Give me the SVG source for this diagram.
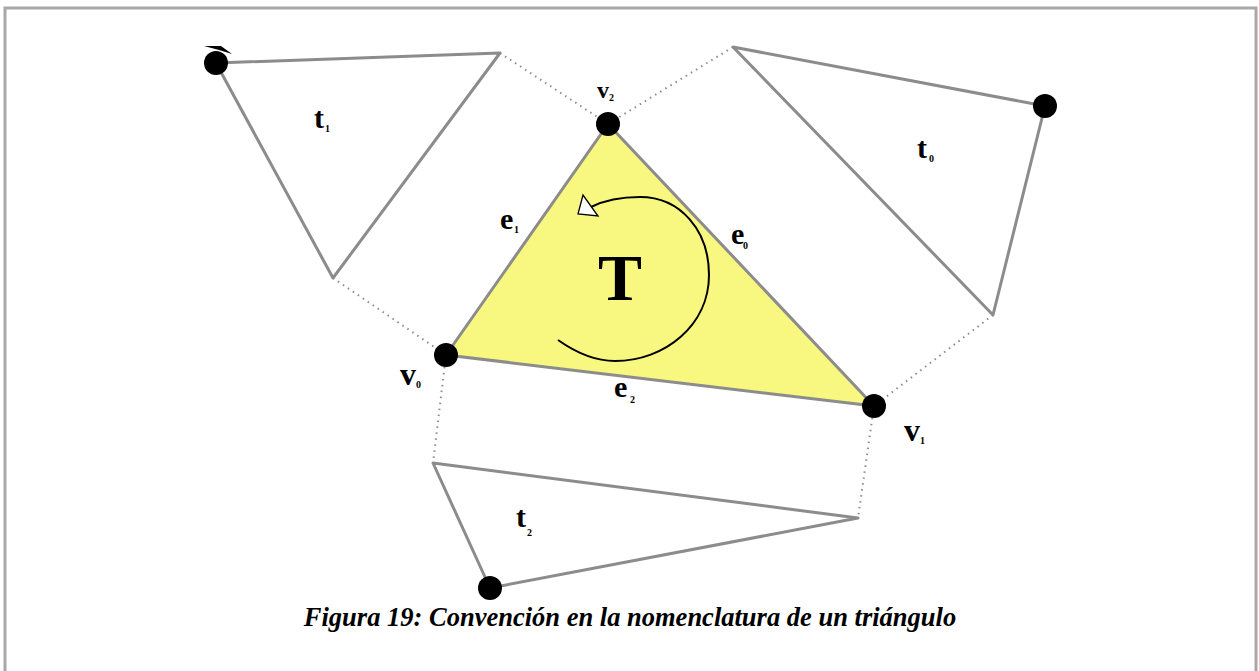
<svg xmlns="http://www.w3.org/2000/svg" width="1259" height="671" viewBox="0 0 1259 671">
<style>
.solid{stroke:#8c8c8c;stroke-width:3;fill:none;stroke-linecap:round;stroke-linejoin:round}
.dot{stroke:#8c8c8c;stroke-width:2;fill:none;stroke-dasharray:1.5 4.5}
.lbl{font-family:"Liberation Serif",serif;font-weight:bold;fill:#000}
.sub{font-family:"Liberation Serif",serif;font-weight:bold;fill:#000;font-size:10px}
.vtx{fill:#000}
</style>
<rect x="0" y="0" width="1259" height="671" fill="#fff"/>
<rect x="5" y="8" width="1251" height="700" fill="none" stroke="#a8a8a8" stroke-width="3"/>
<g id="connectors">
<line class="dot" x1="500" y1="53" x2="608" y2="124"/>
<line class="dot" x1="333" y1="278" x2="446" y2="355"/>
<line class="dot" x1="733" y1="47" x2="608" y2="124"/>
<line class="dot" x1="993" y1="315" x2="874" y2="406"/>
<line class="dot" x1="446" y1="355" x2="433" y2="463"/>
<line class="dot" x1="874" y1="406" x2="858" y2="518"/>
</g>
<g id="T">
<polygon points="446,355 874,406 608,124" fill="#f8f77f" stroke="#8c8c8c" stroke-width="3" stroke-linejoin="round"/>
<path d="M558,340 C575,352 595,361 615,361 C665,361 709,325 709,275 C709,230 680,197 640,197 C620,197 603,201 591,207" fill="none" stroke="#000" stroke-width="2"/>
<polygon points="578,214 583,195 598,216" fill="#fff" stroke="#000" stroke-width="1.3"/>
<text class="lbl" x="598" y="300" font-size="66">T</text>
</g>
<g id="t1">
<polygon class="solid" points="216,63 500,53 333,278"/>
<text class="lbl" x="314" y="128" font-size="30">t</text><text class="sub" x="325" y="132">1</text>
</g>
<g id="t0">
<polygon class="solid" points="733,47 1045,106 993,315"/>
<text class="lbl" x="917" y="158" font-size="30">t</text><text class="sub" x="929" y="162">0</text>
</g>
<g id="t2">
<polygon class="solid" points="433,463 858,518 490,588"/>
<text class="lbl" x="516" y="527" font-size="30">t</text><text class="sub" x="527" y="536">2</text>
</g>
<g id="vertices">
<circle class="vtx" cx="216" cy="63" r="12"/>
<path d="M204,46 L221,46 L232,54 L219,50 Z" fill="#000"/>
<circle class="vtx" cx="608" cy="124" r="12"/>
<circle class="vtx" cx="1045" cy="106" r="12"/>
<circle class="vtx" cx="446" cy="355" r="12"/>
<circle class="vtx" cx="874" cy="406" r="12"/>
<circle class="vtx" cx="490" cy="588" r="12"/>
</g>
<g id="labels">
<text class="lbl" x="597" y="98" font-size="24">v</text><text class="sub" x="609" y="101">2</text>
<text class="lbl" x="400" y="385" font-size="32">v</text><text class="sub" x="416" y="388">0</text>
<text class="lbl" x="904" y="441" font-size="32">v</text><text class="sub" x="920" y="444">1</text>
<text class="lbl" x="500" y="229" font-size="30">e</text><text class="sub" x="514" y="233">1</text>
<text class="lbl" x="731" y="244" font-size="30">e</text><text class="sub" x="743" y="249">0</text>
<text class="lbl" x="614" y="397" font-size="30">e</text><text class="sub" x="630" y="403">2</text>
</g>
<text x="630" y="626" text-anchor="middle" font-family="Liberation Serif,serif" font-weight="bold" font-style="italic" font-size="26.5">Figura 19: Convención en la nomenclatura de un triángulo</text>
</svg>
